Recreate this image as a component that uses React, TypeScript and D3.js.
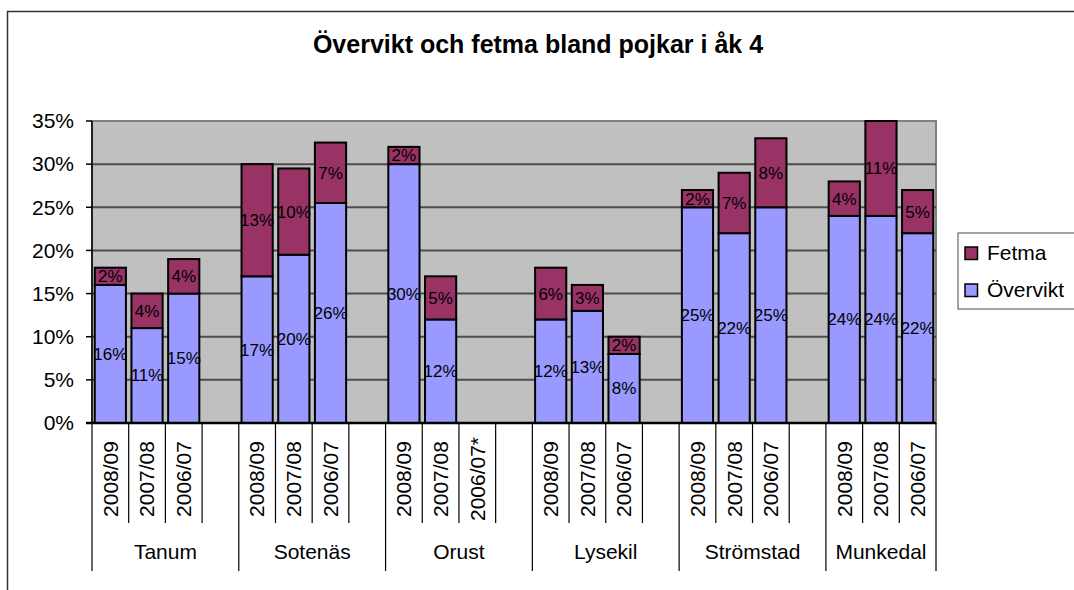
import React from 'react';
import * as d3 from 'd3';

const municipalities = ['Tanum', 'Sotenäs', 'Orust', 'Lysekil', 'Strömstad', 'Munkedal'];
const periods = [
  '2008/09', '2007/08', '2006/07',
  '2008/09', '2007/08', '2006/07',
  '2008/09', '2007/08', '2006/07*',
  '2008/09', '2007/08', '2006/07',
  '2008/09', '2007/08', '2006/07',
  '2008/09', '2007/08', '2006/07',
];
// percent, one value per period
const overvikt = [16, 11, 15, 17, 19.5, 25.5, 30, 12, null, 12, 13, 8, 25, 22, 25, 24, 24, 22];
const fetma = [2, 4, 4, 13, 10, 7, 2, 5, null, 6, 3, 2, 2, 7, 8, 4, 11, 5];
const yTicks = [0, 5, 10, 15, 20, 25, 30, 35];
const seriesNames = ['Fetma', 'Övervikt'];
const colors = { Fetma: '#993366', 'Övervikt': '#9999FF' };

const W = 1074;
const H = 590;
const plot = { left: 92, right: 936, top: 121, bottom: 423 };
const font = 'Liberation Sans, Arial, sans-serif';

const App = () => {
  const nSlots = municipalities.length * 4 - 1;
  const x = d3.scaleBand<number>()
    .domain(d3.range(nSlots))
    .range([plot.left, plot.right])
    .paddingInner(0.15)
    .paddingOuter(0.075);
  const step = x.step();
  const slotStart = (i: number) => plot.left + i * step;
  const y = d3.scaleLinear().domain([0, 35]).range([plot.bottom, plot.top]);
  const fmt = (v: number) => `${Math.round(v)}%`;

  const bars = periods.map((p, j) => {
    const g = Math.floor(j / 3);
    const slot = g * 4 + (j % 3);
    return { p, slot, o: overvikt[j], f: fetma[j] };
  });

  return (
    <div style={{ position: 'absolute', left: 0, top: 0 }}>
      <svg width={W} height={H} style={{ display: 'block', background: '#fff' }} fontFamily={font}>
        <rect x={7.5} y={11.5} width={W + 20} height={H + 20} fill="#fff" stroke="#333" strokeWidth={1.5} />
        <text x={538} y={53} textAnchor="middle" fontSize={25} fontWeight="bold">
          Övervikt och fetma bland pojkar i åk 4
        </text>

        {/* plot area */}
        <rect x={plot.left} y={plot.top} width={plot.right - plot.left} height={plot.bottom - plot.top}
          fill="#C0C0C0" stroke="#808080" strokeWidth={2} />
        {yTicks.filter(t => t > 0 && t < 35).map(t => (
          <line key={t} x1={plot.left} x2={plot.right} y1={y(t)} y2={y(t)} stroke="#4d4d4d" strokeWidth={2} />
        ))}

        {/* y axis */}
        <line x1={plot.left} x2={plot.left} y1={plot.top} y2={plot.bottom} stroke="#000" strokeWidth={1.5} />
        {yTicks.map(t => (
          <g key={t}>
            <line x1={plot.left - 6} x2={plot.left} y1={y(t)} y2={y(t)} stroke="#000" strokeWidth={1.5} />
            <text x={74} y={y(t)} dy="0.35em" textAnchor="end" fontSize={21}>{t}%</text>
          </g>
        ))}

        {/* bars */}
        {bars.filter(b => b.o != null).map((b, i) => {
          const bx = x(b.slot) as number;
          const bw = x.bandwidth();
          const o = b.o as number;
          const f = b.f as number;
          return (
            <g key={i}>
              <rect x={bx} y={y(o)} width={bw} height={y(0) - y(o)} fill={colors['Övervikt']} stroke="#000" strokeWidth={2} />
              <rect x={bx} y={y(o + f)} width={bw} height={y(o) - y(o + f)} fill={colors.Fetma} stroke="#000" strokeWidth={2} />
              <text x={bx + bw / 2} y={(y(0) + y(o)) / 2} dy="0.35em" textAnchor="middle" fontSize={17}>{fmt(o)}</text>
              <text x={bx + bw / 2} y={(y(o) + y(o + f)) / 2} dy="0.35em" textAnchor="middle" fontSize={17}>{fmt(f)}</text>
            </g>
          );
        })}
        <line x1={plot.left - 6} x2={plot.right} y1={plot.bottom} y2={plot.bottom} stroke="#000" strokeWidth={2.5} />

        {/* x axis: periods and municipalities */}
        {d3.range(nSlots + 1).map(i => {
          const groupEdge = i % 4 === 0 || i === nSlots;
          return (
            <line key={i} x1={slotStart(i)} x2={slotStart(i)} y1={plot.bottom} y2={groupEdge ? 571 : 523}
              stroke="#000" strokeWidth={1.2} />
          );
        })}
        {bars.map((b, i) => {
          const cx = slotStart(b.slot) + step / 2;
          return (
            <text key={i} transform={`translate(${cx},479) rotate(-90)`} dy="0.35em" textAnchor="middle" fontSize={21}>
              {b.p}
            </text>
          );
        })}
        {municipalities.map((m, g) => {
          const x0 = slotStart(g * 4);
          const x1 = slotStart(Math.min(g * 4 + 4, nSlots));
          return (
            <text key={m} x={(x0 + x1) / 2} y={559} textAnchor="middle" fontSize={21}>{m}</text>
          );
        })}

        {/* legend */}
        <rect x={958} y={233} width={130} height={76} fill="#fff" stroke="#666" strokeWidth={1.2} />
        {seriesNames.map((s, i) => (
          <g key={s} transform={`translate(965,${247 + i * 37})`}>
            <rect x={0} y={0} width={12.5} height={12.5} fill={colors[s as keyof typeof colors]} stroke="#000" strokeWidth={1.5} />
            <text x={22} y={12.5} fontSize={21}>{s}</text>
          </g>
        ))}
      </svg>
    </div>
  );
};

export default App;
